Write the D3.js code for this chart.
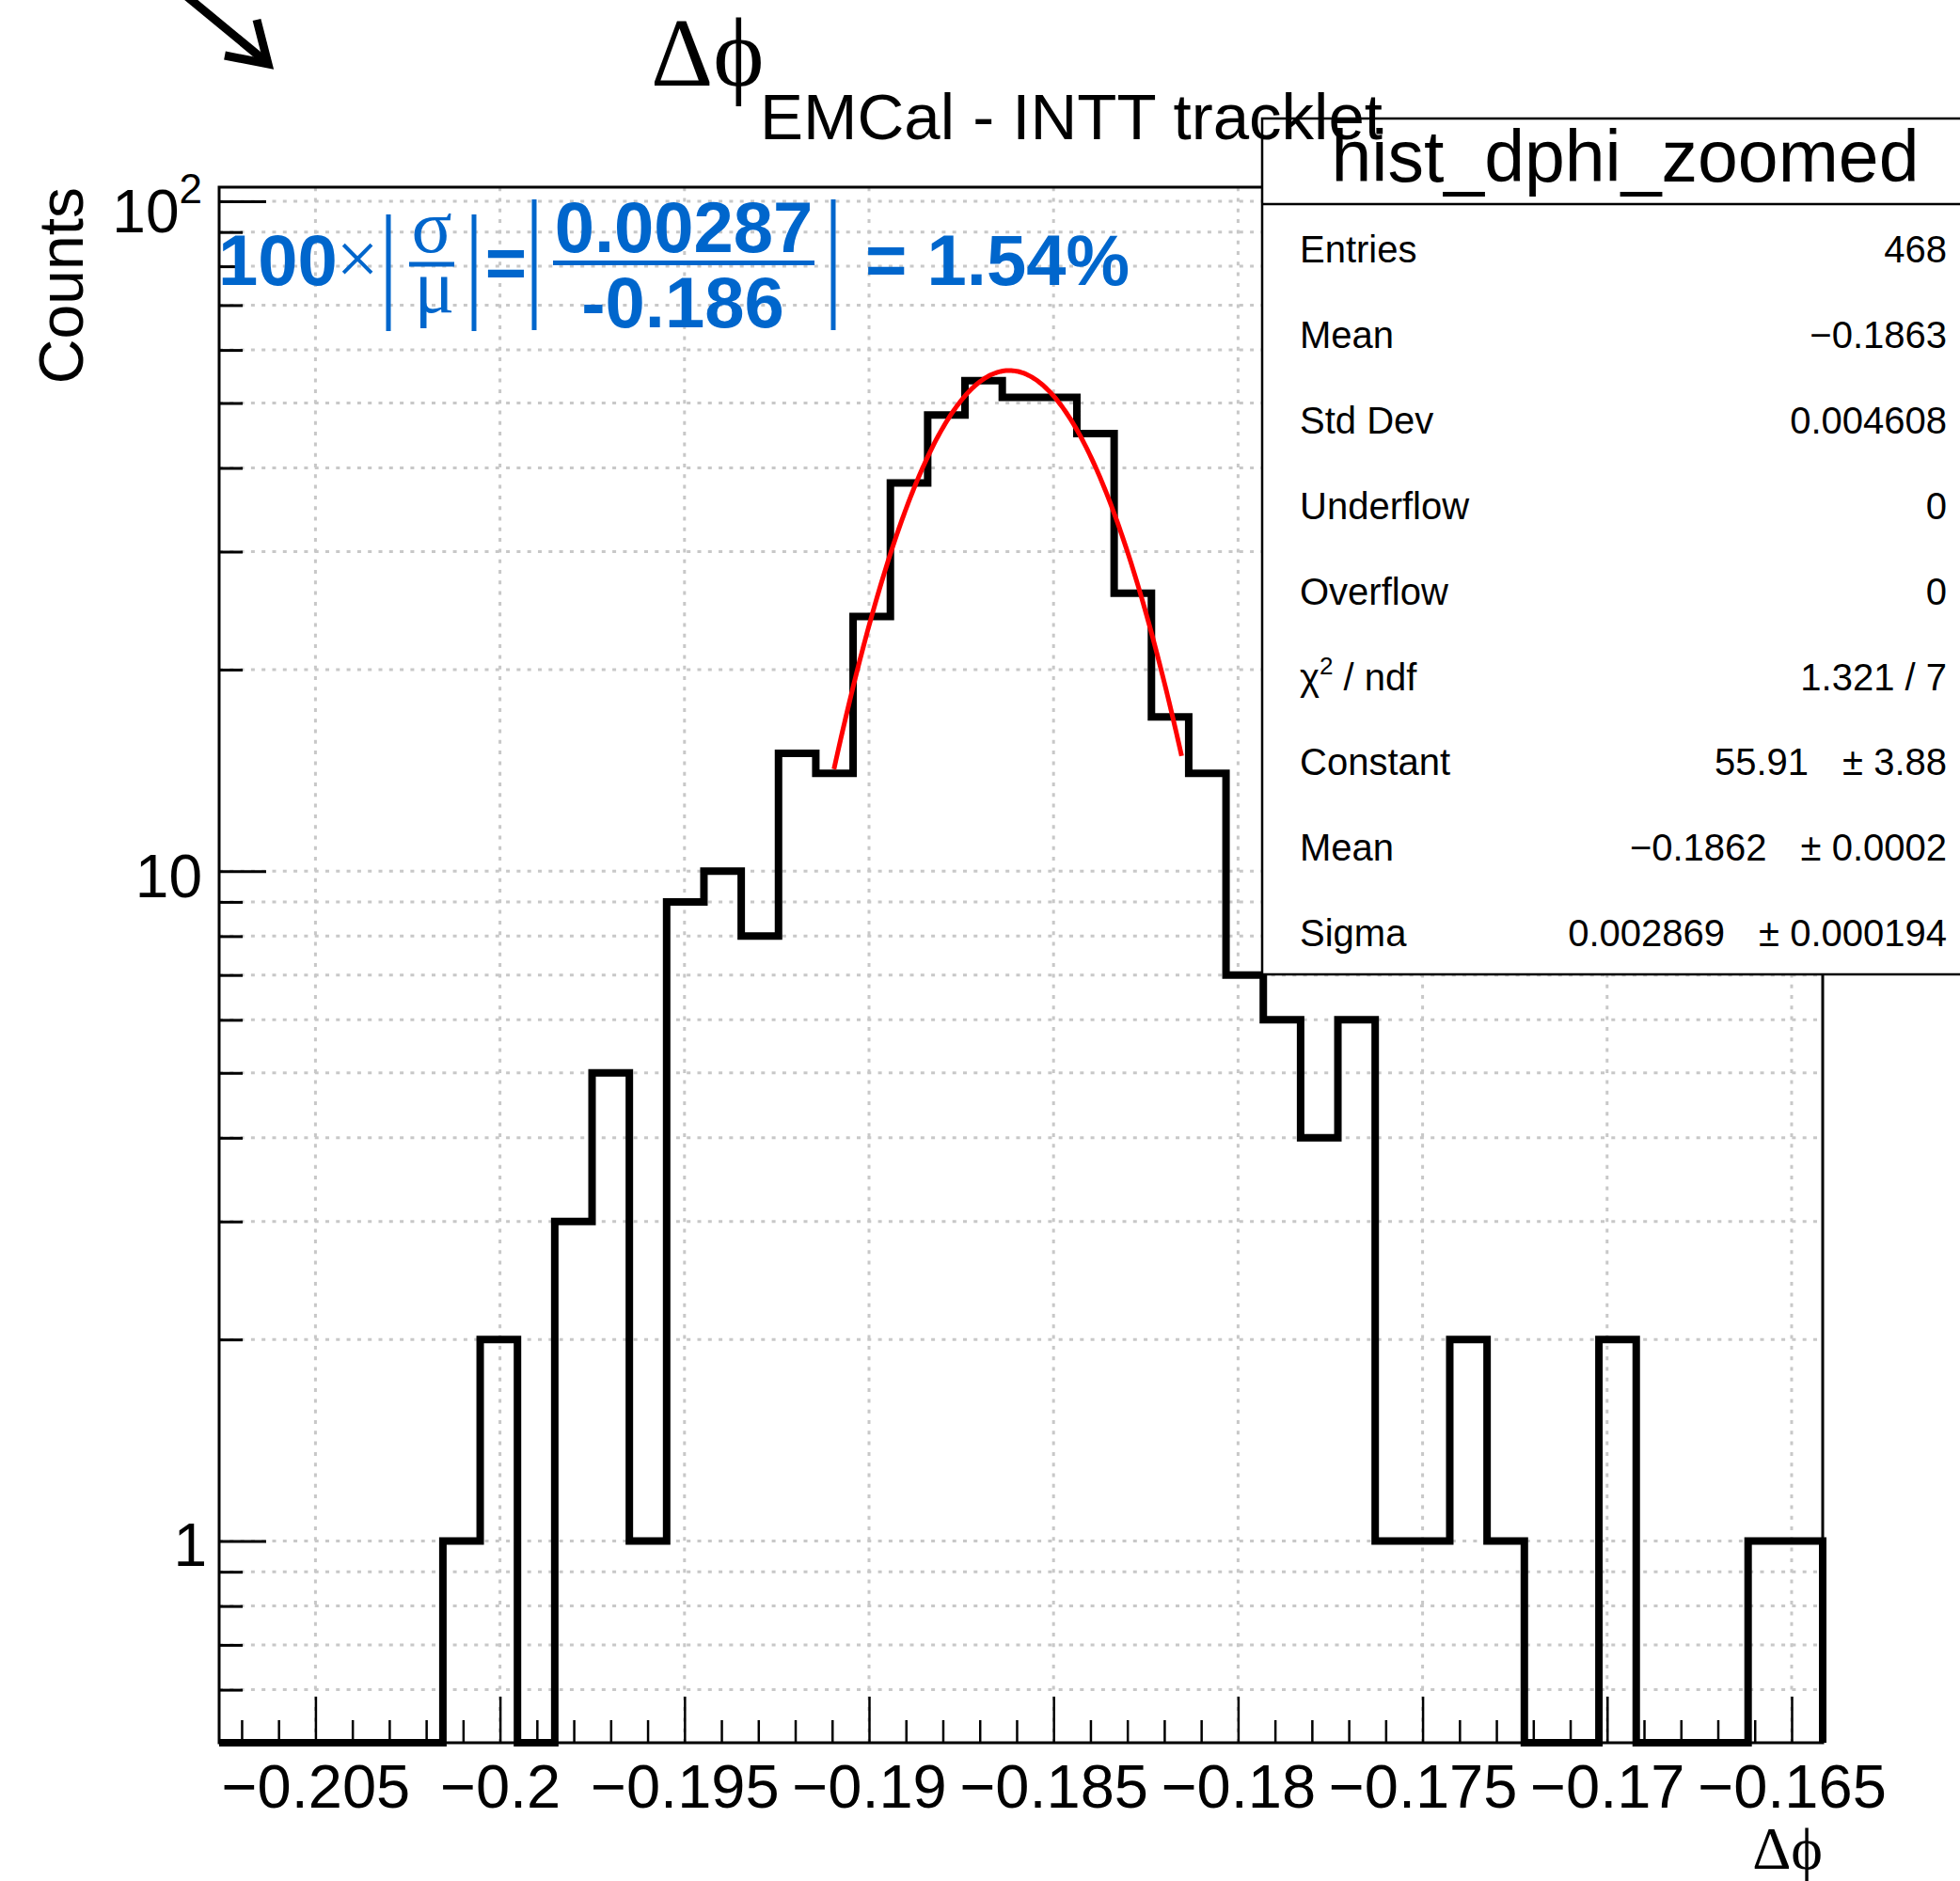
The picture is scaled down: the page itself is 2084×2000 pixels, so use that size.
<!DOCTYPE html>
<html><head><meta charset="utf-8">
<script src="https://cdn.jsdelivr.net/npm/d3@7"></script>
<style>body{margin:0;background:#fff}</style>
</head><body>
<svg id="c" width="2084" height="2000" xmlns="http://www.w3.org/2000/svg"></svg>
<script>
// ---------------- data ----------------
const binLowEdge = -0.20761;
const binWidth = 0.0010105;
const counts = [0,0,0,0,0,0,1,2,0,3,5,1,9,10,8,15,14,24,38,48,54,51,51,45,26,17,14,7,6,4,6,1,1,2,1,0,0,2,0,0,0,1,1];
const xMajorTicks = [-0.205,-0.2,-0.195,-0.19,-0.185,-0.18,-0.175,-0.17,-0.165];
const xTickLabels = ["\u22120.205","\u22120.2","\u22120.195","\u22120.19","\u22120.185","\u22120.18","\u22120.175","\u22120.17","\u22120.165"];
const xMinorTicks = [-0.207,-0.206,-0.204,-0.203,-0.202,-0.201,-0.199,-0.198,-0.197,-0.196,-0.194,-0.193,-0.192,-0.191,-0.189,-0.188,-0.187,-0.186,-0.184,-0.183,-0.182,-0.181,-0.179,-0.178,-0.177,-0.176,-0.174,-0.173,-0.172,-0.171,-0.169,-0.168,-0.167,-0.166];
const yMajorTicks = [1,10,100];
const yMinorTicks = [0.6,0.7,0.8,0.9,2,3,4,5,6,7,8,9,20,30,40,50,60,70,80,90];
const yDomain = [0.5, 105];
const fitNames = ["Constant","Mean","Sigma"];
const fitValues = [55.91, -0.1862, 0.002869];
const fitRange = [-0.19095, -0.18153];
const statLabels = ["Entries","Mean","Std Dev","Underflow","Overflow","\u03c7\u00b2 / ndf","Constant","Mean","Sigma"];
const statValues = ["468","\u22120.1863","0.004608","0","0","1.321 / 7","55.91","\u22120.1862","0.002869"];
const statErrors = ["","","","","","","\u00b1 3.88","\u00b1 0.0002","\u00b1 0.000194"];
const statsTitle = "hist_dphi_zoomed";
const yTitle = "Counts";

// ---------------- layout ----------------
const W = 2084, H = 2000;
const L = 233, R = 1938, T = 199, B = 1853;
const SANS = "'Liberation Sans', Arial, Helvetica, sans-serif";
const SERIF = "'Liberation Serif', 'Times New Roman', serif";
const BLUE = "#0066cc";

const svg = d3.select("#c");
svg.append("rect").attr("width", W).attr("height", H).attr("fill", "#fff");

const xMax = binLowEdge + counts.length * binWidth;
const x = d3.scaleLinear().domain([binLowEdge, xMax]).range([L, R]);
const y = d3.scaleLog().domain(yDomain).range([B, T]);

svg.append("defs").append("clipPath").attr("id","frameclip")
  .append("rect").attr("x", L - 5).attr("y", T).attr("width", R - L + 10).attr("height", B - T + 6);

// grid
const grid = svg.append("g").attr("stroke", "#c8c8c8").attr("stroke-width", 3).attr("stroke-dasharray", "4 7.3");
xMajorTicks.forEach(v => grid.append("line").attr("x1", x(v)).attr("x2", x(v)).attr("y1", B).attr("y2", T));
yMajorTicks.concat(yMinorTicks).forEach(v => grid.append("line").attr("x1", L).attr("x2", R).attr("y1", y(v)).attr("y2", y(v)));

// histogram
const yv = v => v > 0 ? y(v) : B;
let p = `M${x(binLowEdge)},${B}`;
counts.forEach((c, i) => {
  const x1 = x(binLowEdge + (i+1)*binWidth);
  p += `V${yv(c)}H${x1}`;
});
p += `V${B}`;
svg.append("path").attr("d", p).attr("fill", "none").attr("stroke", "#000")
  .attr("stroke-width", 8).attr("stroke-linejoin", "miter").attr("clip-path", "url(#frameclip)");

// fit curve (Gaussian with the fitted parameters)
const gaus = xx => fitValues[0] * Math.exp(-0.5 * Math.pow((xx - fitValues[1]) / fitValues[2], 2));
const fx = d3.range(0, 201).map(i => fitRange[0] + (fitRange[1]-fitRange[0]) * i / 200);
svg.append("path").datum(fx)
  .attr("d", d3.line().x(d => x(d)).y(d => y(gaus(d))))
  .attr("fill", "none").attr("stroke", "#ff0000").attr("stroke-width", 5);

// axes
const gx = svg.append("g").attr("transform", `translate(0,${B})`)
  .call(d3.axisBottom(x).tickValues(xMajorTicks).tickSize(-49).tickPadding(23)
    .tickFormat((d,i) => xTickLabels[i]));
gx.select(".domain").remove();
gx.selectAll(".tick line").attr("stroke", "#000").attr("stroke-width", 2.5);
gx.selectAll(".tick text").attr("font-family", SANS).attr("font-size", 65).attr("fill", "#000");
const gxm = svg.append("g").attr("transform", `translate(0,${B})`)
  .call(d3.axisBottom(x).tickValues(xMinorTicks).tickSize(-24).tickFormat(""));
gxm.select(".domain").remove();
gxm.selectAll(".tick line").attr("stroke", "#000").attr("stroke-width", 2.5);

const gy = svg.append("g").attr("transform", `translate(${L},0)`)
  .call(d3.axisLeft(y).tickValues(yMajorTicks).tickSize(-50).tickFormat(""));
gy.select(".domain").remove();
gy.selectAll(".tick line").attr("stroke", "#000").attr("stroke-width", 3);
const gym = svg.append("g").attr("transform", `translate(${L},0)`)
  .call(d3.axisLeft(y).tickValues(yMinorTicks).tickSize(-25).tickFormat(""));
gym.select(".domain").remove();
gym.selectAll(".tick line").attr("stroke", "#000").attr("stroke-width", 3);

// y labels
const ylab = svg.append("g").attr("font-family", SANS).attr("fill", "#000").attr("text-anchor", "end");
ylab.append("text").attr("x", 220).attr("y", y(1) + 26).attr("font-size", 64).text("1");
ylab.append("text").attr("x", 215).attr("y", y(10) + 28).attr("font-size", 64).text("10");
const t100 = ylab.append("text").attr("x", 215).attr("y", y(100) + 33).attr("font-size", 64);
t100.append("tspan").text("10");
t100.append("tspan").attr("font-size", 44).attr("dy", -31).text("2");

// frame
svg.append("rect").attr("x", L).attr("y", T).attr("width", R-L).attr("height", B-T)
  .attr("fill", "none").attr("stroke", "#000").attr("stroke-width", 3);

// axis titles
svg.append("text").attr("transform", `translate(88,${T}) rotate(-90)`)
  .attr("text-anchor", "end").attr("font-family", SANS).attr("font-size", 66).text(yTitle);
svg.append("text").attr("x", R).attr("y", 1987).attr("text-anchor", "end")
  .attr("font-family", SERIF).attr("font-size", 64).text("\u0394\u03d5");

// blue formula
const fz = svg.append("g").attr("fill", BLUE);
fz.append("text").attr("x", 232).attr("y", 303).attr("font-family", SANS).attr("font-weight", "bold")
  .attr("font-size", 76).text("100");
fz.append("text").attr("x", 380).attr("y", 302).attr("text-anchor", "middle").attr("font-family", SERIF)
  .attr("font-size", 80).text("\u00d7");
[[413,228,352],[504,228,352],[568,212,351],[886,212,351]].forEach(b =>
  fz.append("rect").attr("x", b[0]-2.5).attr("y", b[1]).attr("width", 5).attr("height", b[2]-b[1]));
fz.append("text").attr("x", 459).attr("y", 268).attr("text-anchor", "middle").attr("font-family", SERIF)
  .attr("font-size", 80).text("\u03c3");
fz.append("rect").attr("x", 435).attr("y", 278.5).attr("width", 48).attr("height", 5);
fz.append("text").attr("x", 462).attr("y", 332).attr("text-anchor", "middle").attr("font-family", SERIF)
  .attr("font-size", 80).text("\u03bc");
fz.append("text").attr("x", 538).attr("y", 306).attr("text-anchor", "middle").attr("font-family", SANS)
  .attr("font-weight", "bold").attr("font-size", 76).text("=");
fz.append("text").attr("x", 727).attr("y", 268).attr("text-anchor", "middle").attr("font-family", SANS)
  .attr("font-weight", "bold").attr("font-size", 76).text("0.00287");
fz.append("rect").attr("x", 588).attr("y", 277).attr("width", 278).attr("height", 5);
fz.append("text").attr("x", 726).attr("y", 348).attr("text-anchor", "middle").attr("font-family", SANS)
  .attr("font-weight", "bold").attr("font-size", 76).text("-0.186");
fz.append("text").attr("x", 920).attr("y", 303).attr("font-family", SANS)
  .attr("font-weight", "bold").attr("font-size", 76).text("= 1.54%");

// stats box
const sb = svg.append("g");
sb.append("rect").attr("x", 1342).attr("y", 126).attr("width", 800).attr("height", 1036-126)
  .attr("fill", "#fff").attr("stroke", "#000").attr("stroke-width", 2.5);
sb.append("line").attr("x1", 1342).attr("x2", 2142).attr("y1", 217).attr("y2", 217)
  .attr("stroke", "#000").attr("stroke-width", 2.5);
sb.append("text").attr("x", 1728).attr("y", 193).attr("text-anchor", "middle").attr("font-family", SANS)
  .attr("font-size", 77).text(statsTitle);
statLabels.forEach((lab, i) => {
  const by = 279 + i * 90.9;
  const tl = sb.append("text").attr("x", 1382).attr("y", by).attr("font-family", SANS).attr("font-size", 40);
  if (lab.indexOf("\u00b2") >= 0) {
    tl.append("tspan").text("\u03c7");
    tl.append("tspan").attr("font-size", 26).attr("dy", -17).text("2");
    tl.append("tspan").attr("dy", 17).text(" / ndf");
  } else tl.text(lab);
  let vr = 2070;
  if (statErrors[i]) {
    const te = sb.append("text").attr("x", 2070).attr("y", by).attr("text-anchor", "end")
      .attr("font-family", SANS).attr("font-size", 40).text(statErrors[i]);
    vr = 2070 - te.node().getComputedTextLength() - 36;
  }
  sb.append("text").attr("x", vr).attr("y", by).attr("text-anchor", "end")
    .attr("font-family", SANS).attr("font-size", 40).text(statValues[i]);
});

// title
const tt = svg.append("g").attr("fill", "#000");
tt.append("text").attr("x", 692).attr("y", 91).attr("font-family", SERIF).attr("font-size", 103).text("\u0394\u03d5");
tt.append("text").attr("x", 808).attr("y", 148).attr("font-family", SANS).attr("font-size", 69).text("EMCal - INTT tracklet");

// arrow at top-left
svg.append("path").attr("d", "M196,-6L282,65").attr("stroke", "#000").attr("stroke-width", 9).attr("fill", "none");
svg.append("path").attr("d", "M273,21L285,68L239,59").attr("stroke", "#000").attr("stroke-width", 9)
  .attr("fill", "none").attr("stroke-linejoin", "miter");
</script>
</body></html>
